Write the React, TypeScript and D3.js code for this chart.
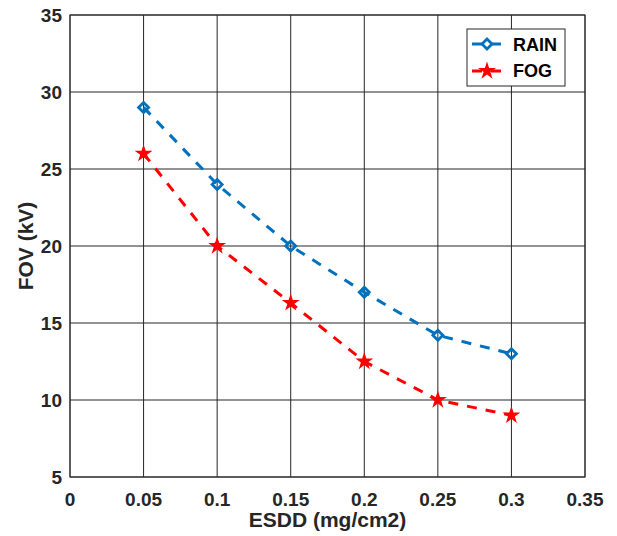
import React from "react";
import * as d3 from "d3";

const esdd = [0.05, 0.1, 0.15, 0.2, 0.25, 0.3];
const rainFov = [29, 24, 20, 17, 14.2, 13];
const fogFov = [26, 20, 16.3, 12.5, 10, 9];
const xTicks = [0, 0.05, 0.1, 0.15, 0.2, 0.25, 0.3, 0.35];
const yTicks = [5, 10, 15, 20, 25, 30, 35];

const W = 617;
const H = 536;
const left = 70;
const right = 585;
const top = 15;
const bottom = 477;

const BLUE = "#0072BD";
const RED = "#FF0000";
const INK = "#262626";
const FONT = "'Liberation Sans', Arial, sans-serif";

export default function App() {
  const x = d3.scaleLinear().domain([0, 0.35]).range([left, right]);
  const y = d3.scaleLinear().domain([5, 35]).range([bottom, top]);
  const line = d3
    .line<number>()
    .x((_, i) => x(esdd[i]))
    .y((d) => y(d));

  const star = d3.symbol(d3.symbolStar, 100)() as string;

  const diamond = (cx: number, cy: number, key: string | number) => (
    <path
      key={key}
      d={`M${cx},${cy - 5}L${cx + 5},${cy}L${cx},${cy + 5}L${cx - 5},${cy}Z`}
      fill="none"
      stroke={BLUE}
      strokeWidth={2.8}
    />
  );

  return (
    <svg
      width={W}
      height={H}
      style={{ position: "absolute", left: 0, top: 0, background: "#fff" }}
      fontFamily={FONT}
    >
      <rect x={0} y={0} width={W} height={H} fill="#fff" />
      {/* grid */}
      {xTicks.map((t) => (
        <line key={"gx" + t} x1={x(t)} x2={x(t)} y1={top} y2={bottom} stroke={INK} strokeWidth={1} />
      ))}
      {yTicks.map((t) => (
        <line key={"gy" + t} x1={left} x2={right} y1={y(t)} y2={y(t)} stroke={INK} strokeWidth={1} />
      ))}
      <rect x={left} y={top} width={right - left} height={bottom - top} fill="none" stroke={INK} strokeWidth={1} />

      {/* tick labels */}
      {xTicks.map((t) => (
        <text key={"tx" + t} x={x(t)} y={bottom + 29} textAnchor="middle" fontSize={19} fontWeight="bold" fill={INK}>
          {String(t)}
        </text>
      ))}
      {yTicks.map((t) => (
        <text key={"ty" + t} x={left - 8} y={y(t) + 7} textAnchor="end" fontSize={19} fontWeight="bold" fill={INK}>
          {t}
        </text>
      ))}

      {/* axis titles */}
      <text x={(left + right) / 2} y={527} textAnchor="middle" fontSize={21} fontWeight="bold" fill={INK}>
        ESDD (mg/cm2)
      </text>
      <text
        transform={`translate(33,${(top + bottom) / 2}) rotate(-90)`}
        textAnchor="middle"
        fontSize={21}
        fontWeight="bold"
        fill={INK}
      >
        FOV (kV)
      </text>

      {/* series */}
      <path d={line(rainFov) ?? ""} fill="none" stroke={BLUE} strokeWidth={3} strokeDasharray="10,9" />
      <path d={line(fogFov) ?? ""} fill="none" stroke={RED} strokeWidth={3} strokeDasharray="10,9" />
      {rainFov.map((v, i) => diamond(x(esdd[i]), y(v), "d" + i))}
      {fogFov.map((v, i) => (
        <path key={"s" + i} d={star} transform={`translate(${x(esdd[i])},${y(v)})`} fill={RED} />
      ))}

      {/* legend */}
      <rect x={467} y={29} width={98} height={57} fill="#fff" stroke={INK} strokeWidth={1} />
      <line x1={472} x2={502} y1={44} y2={44} stroke={BLUE} strokeWidth={3} strokeDasharray="10,9" />
      {diamond(487, 44, "ld")}
      <text x={513} y={51} fontSize={18} fontWeight="bold" fill="#000">RAIN</text>
      <line x1={472} x2={502} y1={71} y2={71} stroke={RED} strokeWidth={3} strokeDasharray="10,9" />
      <path d={star} transform="translate(487,71)" fill={RED} />
      <text x={513} y={77} fontSize={18} fontWeight="bold" fill="#000">FOG</text>
    </svg>
  );
}
